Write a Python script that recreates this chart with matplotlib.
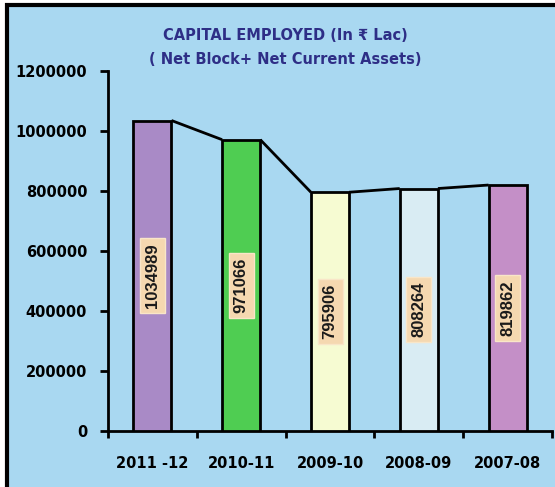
import numpy as np
import matplotlib
matplotlib.use("Agg")
import matplotlib.pyplot as plt
from matplotlib.patches import Rectangle

plt.rcParams['font.family'] = ['DejaVu Sans']

# Capital employed per year, in Rs lakh
years = ['2011 -12', '2010-11', '2009-10', '2008-09', '2007-08']
capital = [1034989, 971066, 795906, 808264, 819862]
bar_colors = ['#a98ac6', '#4fcd52', '#f6fbd2', '#d9ecf3', '#c48fc7']

BG = '#a9d8f1'
W, H = 555, 487

fig = plt.figure(figsize=(W / 100, H / 100), dpi=100, facecolor='white')

# panel with black frame (right and bottom edges run off the canvas)
frame = Rectangle((6.5 / W, -0.05), 1.1, 1 - 4.5 / H + 0.05,
                  transform=fig.transFigure, facecolor=BG,
                  edgecolor='black', linewidth=3, zorder=-10)
fig.patches.append(frame)

ax = fig.add_axes([108 / W, (H - 431) / H, (552 - 108) / W, (431 - 71) / H])
ax.patch.set_visible(False)

x = np.arange(len(years))
width = 0.43
ax.bar(x, capital, width=width, color=bar_colors, edgecolor='black',
       linewidth=2, zorder=3)

# connecting line from each bar's top-right corner to the next bar's top-left
for i in range(len(capital) - 1):
    ax.plot([x[i] + width / 2, x[i + 1] - width / 2],
            [capital[i], capital[i + 1]], color='black', lw=2,
            solid_capstyle='butt', zorder=4)

for xi, v in zip(x, capital):
    ax.text(xi, v / 2, str(v), rotation=90, ha='center', va='center',
            fontsize=12, fontweight='bold', color='#1a1a1a', zorder=5,
            family='Liberation Sans',
            bbox=dict(boxstyle='square,pad=0.3', facecolor='#f5d8b0',
                      edgecolor='#f9e6c8', linewidth=1))

ax.set_xlim(-0.5, len(years) - 0.5)
ax.set_ylim(0, 1200000)
ax.set_yticks(np.arange(0, 1200001, 200000))
ax.set_yticklabels([str(t) for t in range(0, 1200001, 200000)],
                   fontsize=10.5, fontweight='bold')
ax.set_xticks(x)
ax.set_xticklabels(years, fontsize=10.5, fontweight='bold')
ax.set_xticks(np.arange(-0.5, len(years), 1), minor=True)
ax.tick_params(axis='x', which='major', length=0, pad=18)
ax.tick_params(axis='x', which='minor', length=5, width=2, direction='out')
ax.tick_params(axis='y', length=6, width=2, pad=9)

for side in ('top', 'right'):
    ax.spines[side].set_visible(False)
for side in ('left', 'bottom'):
    ax.spines[side].set_linewidth(2)

fig.text(285 / W, 1 - 35 / H, 'CAPITAL EMPLOYED (In \u20b9 Lac)',
         ha='center', va='center', fontsize=10.5, fontweight='bold',
         color='#2e2e86')
fig.text(285 / W, 1 - 60 / H, '( Net Block+ Net Current Assets)',
         ha='center', va='center', fontsize=10.5, fontweight='bold',
         color='#2e2e86')

fig.savefig('out.png', dpi=100, facecolor='white')
